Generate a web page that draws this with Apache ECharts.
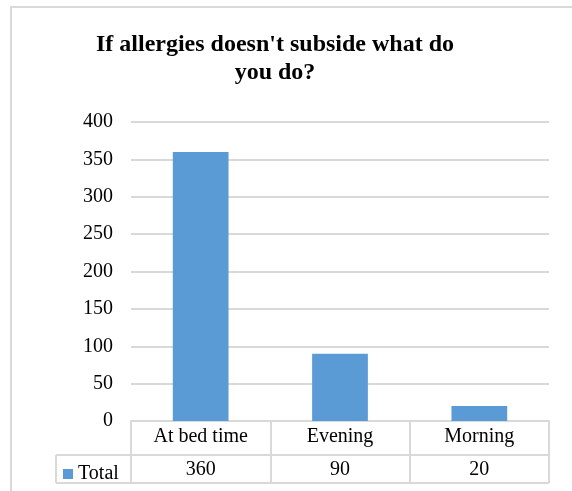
<!DOCTYPE html>
<html>
<head>
<meta charset="utf-8">
<script src="https://cdn.jsdelivr.net/npm/echarts@6/dist/echarts.min.js"></script>
<style>
  html, body { margin: 0; padding: 0; background: #fff; }
  #chart { width: 572px; height: 491px; }
</style>
</head>
<body>
<div id="chart"></div>
<script>
// data
const categories = ['At bed time', 'Evening', 'Morning'];
const totals = [360, 90, 20];
const seriesName = 'Total';
const yTicks = { min: 0, max: 400, step: 50 };

const FONT = '"Liberation Serif", "Times New Roman", serif';
const GRIDLINE = '#d9d9d9';
const BAR = '#5b9bd5';

const chart = echarts.init(document.getElementById('chart'));

const options = {
  animation: false,
  title: {
    text: "If allergies doesn't subside what do\nyou do?",
    left: 270,
    textAlign: 'center',
    top: 26,
    textStyle: {
      fontFamily: FONT,
      fontSize: 24,
      fontWeight: 'bold',
      color: '#000',
      lineHeight: 28
    }
  },
  legend: {
    data: [seriesName],
    left: 58,
    top: 459,
    icon: 'rect',
    itemWidth: 10,
    itemHeight: 10,
    itemGap: 4,
    textStyle: { fontFamily: FONT, fontSize: 20, color: '#000' }
  },
  grid: { left: 131, right: 23, top: 122, bottom: 70 },
  xAxis: [
    {
      type: 'category',
      data: categories,
      axisLine: { lineStyle: { color: GRIDLINE, width: 2 } },
      axisTick: { show: true, length: 62, lineStyle: { color: GRIDLINE, width: 2 } },
      axisLabel: { fontFamily: FONT, fontSize: 20, color: '#000', margin: 6 }
    },
    {
      type: 'category',
      data: categories,
      position: 'bottom',
      offset: 34,
      axisLine: { lineStyle: { color: GRIDLINE, width: 2 } },
      axisTick: { show: false },
      axisLabel: {
        fontFamily: FONT, fontSize: 20, color: '#000', margin: 5,
        formatter: (v, i) => String(totals[i])
      }
    }
  ],
  yAxis: {
    type: 'value',
    min: yTicks.min,
    max: yTicks.max,
    interval: yTicks.step,
    axisLine: { show: false },
    axisTick: { show: false },
    splitLine: { lineStyle: { color: GRIDLINE, width: 2 } },
    axisLabel: { fontFamily: FONT, fontSize: 20, color: '#000', margin: 18 }
  },
  series: [
    {
      name: seriesName,
      type: 'bar',
      barWidth: '40%',
      data: totals,
      itemStyle: { color: BAR }
    }
  ],
  graphic: [
    // outer chart frame
    { type: 'rect', shape: { x: 11, y: 7, width: 600, height: 520 },
      style: { fill: 'none', stroke: GRIDLINE, lineWidth: 2 }, silent: true },
    // data table: legend column borders
    { type: 'line', shape: { x1: 56, y1: 455, x2: 131, y2: 455 }, style: { stroke: GRIDLINE, lineWidth: 2 } },
    { type: 'line', shape: { x1: 56, y1: 483, x2: 549, y2: 483 }, style: { stroke: GRIDLINE, lineWidth: 2 } },
    { type: 'line', shape: { x1: 56, y1: 455, x2: 56, y2: 483 }, style: { stroke: GRIDLINE, lineWidth: 2 } }
  ]
};

chart.setOption(options);
</script>
</body>
</html>
